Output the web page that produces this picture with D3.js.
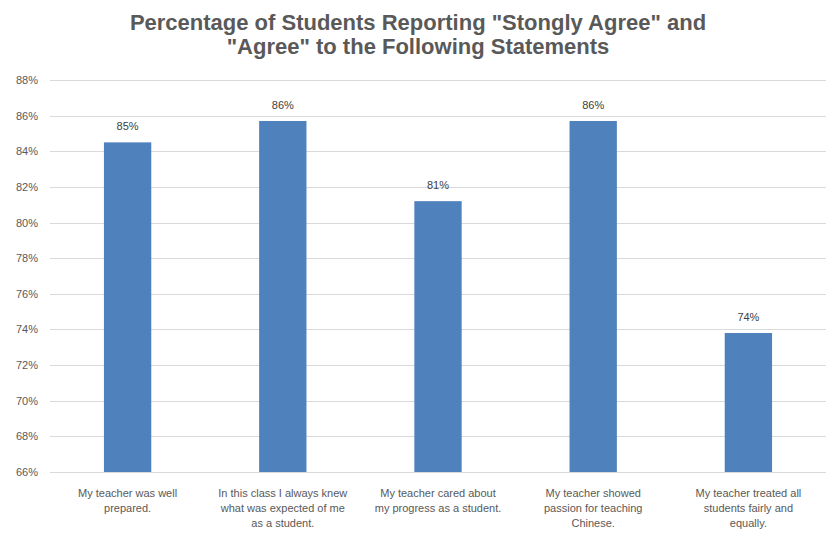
<!DOCTYPE html>
<html>
<head>
<meta charset="utf-8">
<script src="https://cdn.jsdelivr.net/npm/d3@7"></script>
<style>
  body { margin: 0; background: #fff; }
  svg { display: block; }
</style>
</head>
<body>
<svg id="chart"></svg>
<script>
// Data
const categories = [
  ["My teacher was well", "prepared."],
  ["In this class I always knew", "what was expected of me", "as a student."],
  ["My teacher cared about", "my progress as a student."],
  ["My teacher showed", "passion for teaching", "Chinese."],
  ["My teacher treated all", "students fairly and", "equally."]
];
const values = [84.5, 85.7, 81.2, 85.7, 73.8];
const yTicks = [66, 68, 70, 72, 74, 76, 78, 80, 82, 84, 86, 88];
const titleLines = ["Percentage of Students Reporting \"Stongly Agree\" and", "\"Agree\" to the Following Statements"];

// Dimensions
const width = 836, height = 538;
const margin = { top: 80, right: 10, bottom: 66, left: 50 };
const innerW = width - margin.left - margin.right;
const innerH = height - margin.top - margin.bottom;

const svg = d3.select("#chart")
  .attr("width", width)
  .attr("height", height);

const g = svg.append("g")
  .attr("transform", `translate(${margin.left}, ${margin.top})`);

// Scales
const x = d3.scaleBand()
  .domain(d3.range(categories.length))
  .range([0, innerW])
  .paddingInner(0.695)
  .paddingOuter(0.3475);

const y = d3.scaleLinear()
  .domain([66, 88])
  .range([innerH, 0]);

// Gridlines
g.append("g")
  .selectAll("line")
  .data(yTicks)
  .enter()
  .append("line")
  .attr("x1", 0)
  .attr("x2", innerW)
  .attr("y1", d => Math.round(y(d)) + 0.5)
  .attr("y2", d => Math.round(y(d)) + 0.5)
  .attr("stroke", "#d9d9d9")
  .attr("stroke-width", 1);

// Y axis labels
const yAxis = g.append("g")
  .call(d3.axisLeft(y).tickValues(yTicks).tickFormat(d => d + "%").tickSize(0).tickPadding(12));
yAxis.select(".domain").remove();
yAxis.selectAll("text")
  .attr("fill", "#595959")
  .style("font-family", "'Liberation Sans', Arial, sans-serif")
  .style("font-size", "11px");

// Bars
g.selectAll(".bar")
  .data(values)
  .enter()
  .append("rect")
  .attr("class", "bar")
  .attr("x", (d, i) => x(i))
  .attr("y", d => y(d))
  .attr("width", x.bandwidth())
  .attr("height", d => innerH - y(d))
  .attr("fill", "#4f81bd");

// Data labels
g.selectAll(".label")
  .data(values)
  .enter()
  .append("text")
  .attr("class", "label")
  .attr("x", (d, i) => x(i) + x.bandwidth() / 2)
  .attr("y", d => y(d) - 12)
  .attr("text-anchor", "middle")
  .attr("fill", "#404040")
  .style("font-family", "'Liberation Sans', Arial, sans-serif")
  .style("font-size", "11px")
  .text(d => Math.round(d) + "%");

// Category labels
const catG = g.selectAll(".cat")
  .data(categories)
  .enter()
  .append("text")
  .attr("class", "cat")
  .attr("text-anchor", "middle")
  .attr("fill", "#595959")
  .style("font-family", "'Liberation Sans', Arial, sans-serif")
  .style("font-size", "11px")
  .attr("transform", (d, i) => `translate(${x(i) + x.bandwidth() / 2}, ${innerH + 25})`);

catG.selectAll("tspan")
  .data(d => d)
  .enter()
  .append("tspan")
  .attr("x", 0)
  .attr("dy", (d, i) => i === 0 ? 0 : 15)
  .text(d => d);

// Title
svg.append("text")
  .attr("x", width / 2)
  .attr("y", 30)
  .attr("text-anchor", "middle")
  .attr("fill", "#595959")
  .style("font-family", "'Liberation Sans', Arial, sans-serif")
  .style("font-size", "22px")
  .style("font-weight", "bold")
  .selectAll("tspan")
  .data(titleLines)
  .enter()
  .append("tspan")
  .attr("x", width / 2)
  .attr("dy", (d, i) => i === 0 ? 0 : 24)
  .text(d => d);
</script>
</body>
</html>
